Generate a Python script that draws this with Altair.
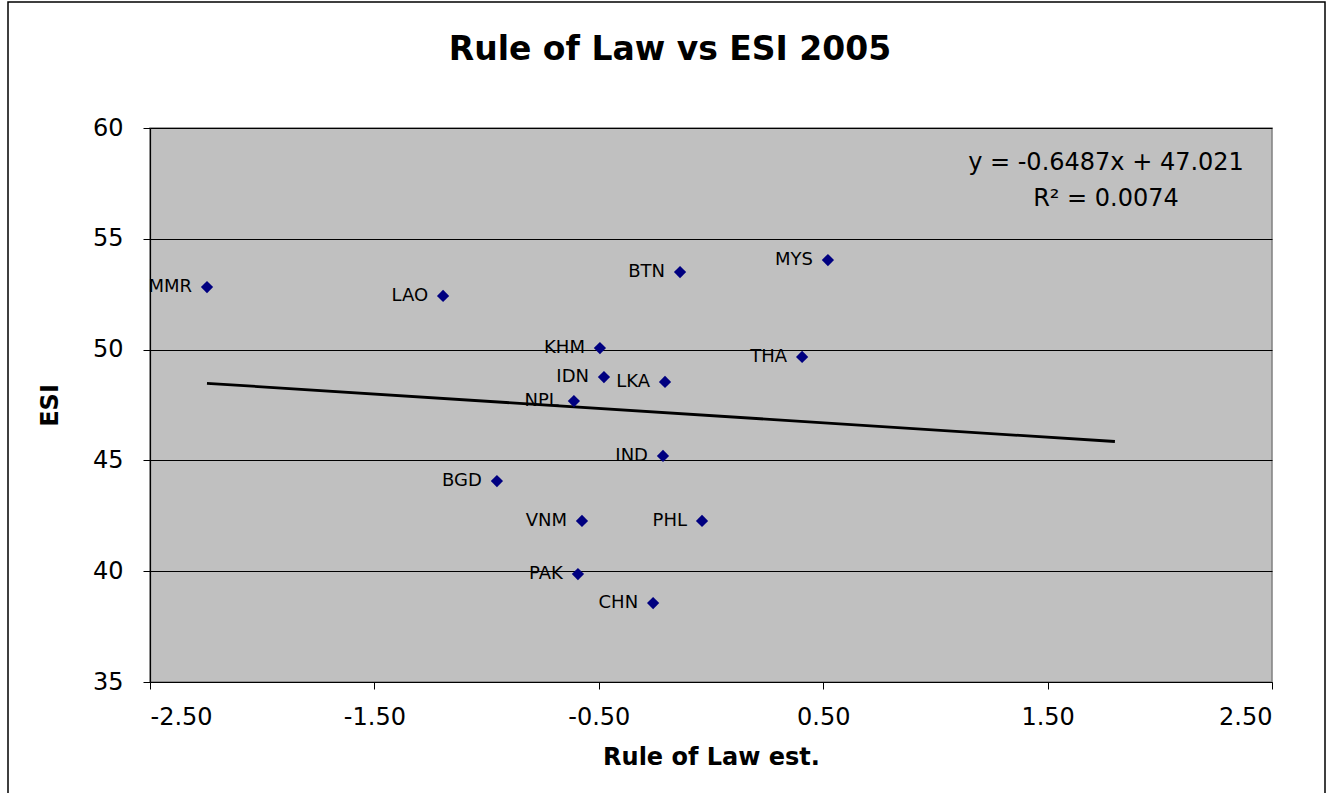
import altair as alt
import pandas as pd

# Country codes, Rule of Law estimate and ESI 2005 score
countries = ["MMR", "LAO", "BTN", "MYS", "KHM", "THA", "IDN", "LKA",
             "NPL", "IND", "BGD", "VNM", "PHL", "PAK", "CHN"]
rule_of_law = [-2.246, -1.194, -0.138, 0.521, -0.495, 0.406, -0.477, -0.205,
               -0.611, -0.214, -0.954, -0.575, -0.040, -0.593, -0.258]
esi = [52.82, 52.42, 53.50, 54.04, 50.07, 49.67, 48.76, 48.54,
       47.68, 45.20, 44.07, 42.27, 42.27, 39.87, 38.56]

# Linear trendline (Excel-style, forecast forward to 1.8)
slope = -0.6487
intercept = 47.021
r_squared = 0.0074
trend_x = [min(rule_of_law), 1.8]

x_ticks = [-2.5, -1.5, -0.5, 0.5, 1.5, 2.5]
y_ticks = [35, 40, 45, 50, 55, 60]

df = pd.DataFrame({"country": countries, "rol": rule_of_law, "esi": esi})
trend = pd.DataFrame({"rol": trend_x, "esi": [slope * v + intercept for v in trend_x]})
one = pd.DataFrame({"a": [0]})

FONT = "DejaVu Sans"

x_enc = alt.X("rol:Q", title="Rule of Law est.",
              scale=alt.Scale(domain=[-2.5, 2.5], nice=False, zero=False),
              axis=alt.Axis(values=x_ticks, grid=False,
                            labelExpr="(datum.value < 0 ? '-' : '') + format(abs(datum.value), '.2f')",
                            tickSize=7, labelPadding=16, titlePadding=16))
y_enc = alt.Y("esi:Q", title="ESI",
              scale=alt.Scale(domain=[35, 60], nice=False, zero=False),
              axis=alt.Axis(values=y_ticks, grid=True, gridColor="black",
                            gridWidth=1, tickSize=7, labelPadding=20,
                            titlePadding=30))

points = alt.Chart(df).mark_point(shape="diamond", filled=True, color="#000080",
                                  size=150, opacity=1).encode(x=x_enc, y=y_enc)

labels = alt.Chart(df).mark_text(align="right", baseline="middle", dx=-15,
                                 fontSize=18, font=FONT, color="black").encode(
    x=x_enc, y=y_enc, text="country:N")

trendline = alt.Chart(trend).mark_line(color="black", strokeWidth=2.8).encode(
    x=x_enc, y=y_enc)

eq_line1 = alt.Chart(one).mark_text(
    text=f"y = {slope}x + {intercept}", fontSize=24, font=FONT, color="black",
    align="center", baseline="middle").encode(x=alt.value(956), y=alt.value(35))
eq_line2 = alt.Chart(one).mark_text(
    text=f"R² = {r_squared}", fontSize=24, font=FONT, color="black",
    align="center", baseline="middle").encode(x=alt.value(956), y=alt.value(71))

title = alt.Chart(one).mark_text(
    text="Rule of Law vs ESI 2005", fontSize=33, font=FONT, fontWeight="bold",
    color="black", align="center", baseline="middle").encode(
    x=alt.value(520), y=alt.value(-78))

# Outer chart frame
frame = alt.Chart(one).mark_rect(
    fill=None, stroke="black", strokeWidth=1.5).encode(
    x=alt.value(-142), x2=alt.value(1175), y=alt.value(-126), y2=alt.value(680))

chart = alt.layer(frame, trendline, points, labels, eq_line1, eq_line2, title).properties(
    width=1122, height=554,
    autosize=alt.AutoSizeParams(type="none"),
    padding={"left": 150, "top": 128, "right": 60, "bottom": 111},
    background="white",
).configure_view(
    fill="#C0C0C0", stroke="#808080", strokeWidth=1.5
).configure_axis(
    labelFont=FONT, labelFontSize=24, labelColor="black",
    titleFont=FONT, titleFontSize=24, titleFontWeight="bold", titleColor="black",
    domainColor="black", tickColor="black", domainWidth=1.2
)

chart.save("out.html", embed_options={"renderer": "svg", "actions": False})
